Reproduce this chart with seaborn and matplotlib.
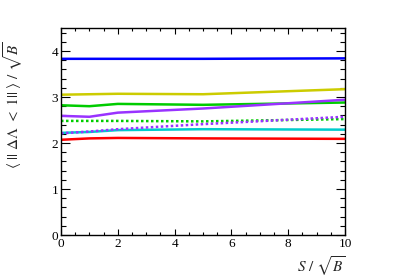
import matplotlib
matplotlib.use("Agg")
import matplotlib.pyplot as plt
import seaborn as sns
import pandas as pd
from matplotlib.ticker import MultipleLocator

x = [0, 1, 2, 5, 10]
blue = [3.83, 3.83, 3.83, 3.83, 3.84]
yellow = [3.05, 3.06, 3.07, 3.06, 3.17]
green = [2.82, 2.80, 2.85, 2.83, 2.88]
purple = [2.59, 2.57, 2.66, 2.75, 2.94]
cyan = [2.22, 2.24, 2.28, 2.30, 2.29]
red = [2.07, 2.10, 2.11, 2.10, 2.09]
green_dotted = [2.48, 2.48, 2.48, 2.47, 2.52]
purple_dotted = [2.21, 2.25, 2.30, 2.41, 2.57]

series = [
    ("blue", blue, "#0000ff", "-"),
    ("yellow", yellow, "#cccc00", "-"),
    ("green", green, "#00cc00", "-"),
    ("purple", purple, "#9933ff", "-"),
    ("cyan", cyan, "#00cccc", "-"),
    ("red", red, "#ff0000", "-"),
    ("green_dotted", green_dotted, "#00cc00", (0, (1, 1))),
    ("purple_dotted", purple_dotted, "#9933ff", (0, (1, 1))),
]

sns.set_style("ticks")
plt.rcParams["font.family"] = ["Liberation Serif", "DejaVu Serif"]
plt.rcParams["mathtext.fontset"] = "stix"

fig = plt.figure(figsize=(4.07, 2.77), dpi=100)
ax = fig.add_axes([61 / 407, 42 / 277, 284 / 407, 207 / 277])

for name, vals, col, ls in series:
    df = pd.DataFrame({"x": x, "y": vals})
    sns.lineplot(data=df, x="x", y="y", ax=ax, color=col, linestyle=ls,
                 linewidth=1.8, legend=False)

ax.set_xlim(0, 10)
ax.set_ylim(0, 4.5)
ax.xaxis.set_major_locator(MultipleLocator(2))
ax.xaxis.set_minor_locator(MultipleLocator(0.5))
ax.yaxis.set_major_locator(MultipleLocator(1))
ax.yaxis.set_minor_locator(MultipleLocator(0.2))

ax.tick_params(axis="both", which="both", direction="in", top=True, right=True,
               colors="black", labelsize=9.5, width=0.8)
ax.tick_params(axis="x", which="major", length=4, pad=2)
ax.tick_params(axis="x", which="minor", length=2)
ax.tick_params(axis="y", which="major", length=6.5, pad=2)
ax.tick_params(axis="y", which="minor", length=3.5)
for s in ax.spines.values():
    s.set_linewidth(1.0)
    s.set_color("black")

ax.set_xlabel(r"$S\ /\ \sqrt{B}$", fontsize=11, loc="right")
ax.xaxis.set_label_coords(1.0, -0.095)
ax.set_ylabel(r"$\langle\ ||\ \Delta\Lambda\ <\ 1||\ \rangle\ /\ \sqrt{B}$",
              fontsize=11, loc="top")
ax.yaxis.set_label_coords(-0.128, 0.935)

fig.savefig("out.png", dpi=100)
